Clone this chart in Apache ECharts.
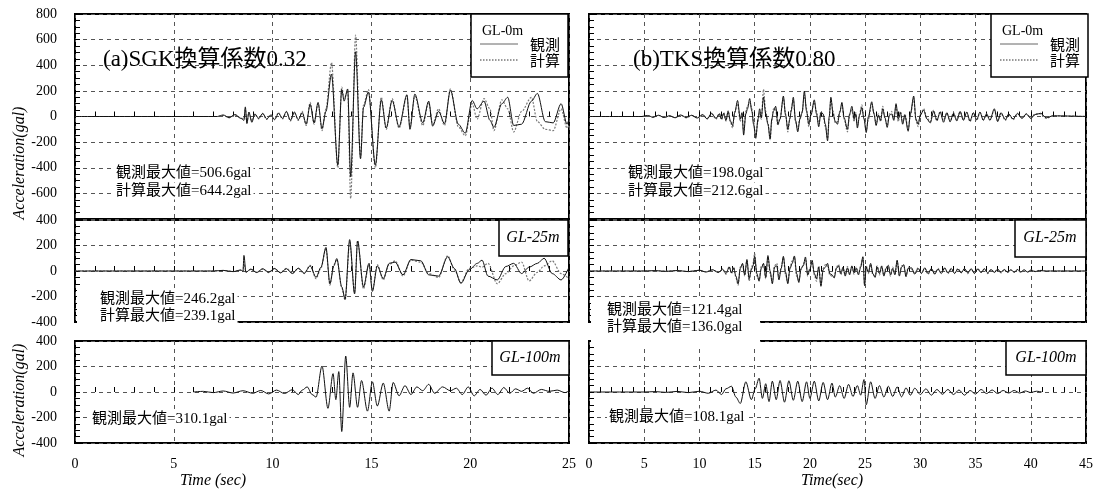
<!DOCTYPE html>
<html>
<head>
<meta charset="utf-8">
<script src="https://cdn.jsdelivr.net/npm/echarts@6/dist/echarts.min.js"></script>
<style>
  body { margin: 0; background: #fff; }
  #chart { width: 1099px; height: 490px; }
</style>
</head>
<body>
<div id="chart"></div>
<script>
// (a) SGK, GL-0m : time (s), observed, calculated (gal)
var tA0 = [0, 7.2, 7.5, 7.8, 8.1, 8.4, 8.55, 8.62, 8.7, 8.8,
  8.95, 9.1, 9.3, 9.5, 9.7, 9.9, 10.1, 10.3, 10.5, 10.7,
  10.9, 11.1, 11.3, 11.5, 11.7, 11.9, 12.1, 12.3, 12.5, 12.7,
  12.98, 13.3, 13.5, 13.62, 13.8, 13.95, 14.2, 14.45, 14.6, 14.85,
  15.2, 15.5, 15.75, 16.05, 16.4, 16.8, 16.95, 17.2, 17.6, 17.9,
  18.1, 18.4, 18.7, 19.0, 19.4, 19.75, 20.1, 20.35, 20.7, 21.0,
  21.2, 21.6, 21.9, 22.2, 22.6, 23.1, 23.4, 23.8, 24.2, 24.6,
  24.9, 25.0];
var obsA0 = [0, 0, 12, -10, 15, -15, -30, 75, -55, 35,
  -45, 20, -15, 25, -20, 10, -25, 25, -15, 40,
  -30, 35, -25, 30, -60, 95, -50, 110, -95, 40,
  330, -380, 210, 120, 215, -470, 505, -330, 70, 190,
  -380, 130, -90, 125, -80, 170, -100, 175, -50, 120,
  -75, 40, -55, 205, -60, -130, 125, 60, 120, -30,
  -85, 100, 150, -70, -60, 120, 180, -40, -50, 100,
  -60, -20];
var calcA0 = [0, 0, 8, -8, 12, -12, -20, 55, -45, 30,
  -35, 15, -18, 20, -22, 15, -20, 30, -20, 35,
  -35, 30, -30, 40, -70, 110, -60, 100, -110, 60,
  420, -400, 230, 140, 200, -640, 635, -320, 90, 210,
  -400, 150, -100, 140, -90, 160, -80, 160, -70, 110,
  -60, 60, -70, 215, -80, -150, 100, -20, 140, 60,
  -110, 130, 60, -120, 40, 150, -40, -100, -110, 60,
  -90, -70];

// (a) SGK, GL-25m
var tA25 = [0, 7.0, 7.5, 8.0, 8.4, 8.5, 8.55, 8.65, 8.9, 9.2,
  9.5, 9.8, 10.1, 10.4, 10.7, 11.0, 11.3, 11.6, 11.9, 12.2,
  12.45, 12.7, 12.9, 13.1, 13.25, 13.5, 13.67, 13.9, 14.15, 14.3,
  14.6, 14.88, 15.05, 15.3, 15.6, 15.9, 16.2, 16.6, 17.0, 17.5,
  17.9, 18.4, 18.86, 19.2, 19.53, 19.95, 20.36, 20.6, 20.9, 21.37,
  21.8, 22.2, 22.6, 22.98, 23.4, 23.74, 24.15, 24.6, 25.0];
var obsA25 = [0, 0, 5, -5, 8, -5, 122, -10, 15, -12,
  18, -10, 20, -15, 18, -20, 22, -18, 40, -50,
  30, 185, -100, 40, 98, -125, -220, 246, -180, 235,
  -125, 60, -160, 40, -60, 60, 70, -30, 90, 80,
  -30, -40, 112, 20, -97, 10, 60, 85, -40, -70,
  35, 60, -20, 30, 60, 100, -20, -70, 30];
var calcA25 = [0, 0, 4, -4, 6, -4, 60, -8, 12, -10,
  15, -12, 18, -12, 20, -18, 20, -20, 45, -60,
  25, 175, -110, 50, 90, -130, -230, 225, -170, 239,
  -140, 55, -150, 50, -70, 50, 80, -40, 85, 70,
  -20, -50, 120, 10, -90, 20, 40, 30, 60, -100,
  -20, 40, 70, -78, -10, 40, 80, -20, -60];

// (a) SGK, GL-100m (observed only)
var tA100 = [6.0, 6.5, 7.0, 7.5, 8.0, 8.5, 9.0, 9.4, 9.8, 10.2,
  10.6, 11.0, 11.3, 11.5, 11.75, 12.0, 12.2, 12.5, 12.8, 13.06,
  13.2, 13.35, 13.5, 13.7, 13.9, 14.07, 14.3, 14.5, 14.8, 15.05,
  15.3, 15.6, 15.9, 16.1, 16.4, 16.7, 17.0, 17.3, 17.6, 17.9,
  18.2, 18.6, 19.0, 19.3, 19.6, 19.9, 20.2, 20.5, 20.8, 21.1,
  21.4, 21.7, 22.0, 22.3, 22.6, 22.9, 23.2, 23.6, 24.0, 24.4,
  24.8, 25.0];
var obsA100 = [0, 5, -5, 8, -8, 10, -10, 12, -15, 15,
  -12, 18, -20, 15, 40, -20, -40, 204, -128, 144,
  -60, 160, -310, 282, -120, 150, -120, 90, -150, 80,
  -110, 70, -150, 75, -30, 50, -20, 40, 10, 60,
  -10, 40, 10, 30, -20, 40, -30, 20, -25, 30,
  -20, 35, -10, 25, 5, 30, -10, 20, 5, 15,
  -5, 10];

// (b) TKS, GL-0m
var tB0 = [0, 4.8, 5.3, 5.8, 6.3, 6.8, 7.3, 7.8, 8.3, 8.8,
  9.3, 9.8, 10.3, 10.7, 11.1, 11.5, 11.8, 12.0, 12.2, 12.4,
  12.6, 12.8, 13.0, 13.2, 13.45, 13.7, 13.85, 14.0, 14.2, 14.35,
  14.55, 14.75, 14.9, 15.1, 15.3, 15.45, 15.6, 15.8, 16.0, 16.2,
  16.4, 16.55, 16.7, 16.9, 17.1, 17.3, 17.6, 17.8, 18.0, 18.2,
  18.3, 18.5, 18.7, 18.9, 19.1, 19.3, 19.5, 19.7, 19.9, 20.1,
  20.4, 20.6, 20.8, 21.0, 21.2, 21.4, 21.6, 21.75, 21.9, 22.1,
  22.3, 22.5, 22.7, 22.9, 23.1, 23.4, 23.6, 23.8, 24.0, 24.15,
  24.3, 24.5, 24.7, 24.9, 25.1, 25.3, 25.6, 25.8, 26.0, 26.2,
  26.4, 26.6, 26.8, 27.0, 27.2, 27.4, 27.6, 27.8, 28.0, 28.2,
  28.4, 28.6, 28.9, 29.1, 29.4, 29.6, 29.8, 30.0, 30.3, 30.6,
  30.9, 31.2, 31.5, 31.8, 32.1, 32.4, 32.7, 33.0, 33.3, 33.6,
  33.9, 34.2, 34.5, 34.8, 35.1, 35.4, 35.7, 36.0, 36.3, 36.7,
  37.0, 37.3, 37.7, 38.0, 38.4, 38.8, 39.2, 39.6, 40.0, 40.4,
  40.9, 41.4, 42.0, 45.0];
var obsB0 = [0, 0, 8, -6, 10, -8, 6, -10, 12, -8,
  10, -12, 15, -20, 25, -15, 20, -20, 25, -30,
  40, -35, -70, 30, 125, -20, 30, -145, 20, 60,
  140, 40, -60, -170, -20, 60, -10, 150, 20, -60,
  -175, -20, 40, 80, -60, -20, 160, 10, -100, -10,
  40, 150, -30, -120, -20, 30, 198, 40, -60, 10,
  130, 20, -80, 30, 20, -60, -190, 0, 150, 20,
  -40, -60, 30, 110, -10, -100, 20, 80, -20, 20,
  -90, 10, 70, -20, -125, 0, 115, 20, -70, 10,
  -30, 60, -10, -85, 10, 20, -30, 100, -20, 30,
  -60, 10, -115, 20, 160, -20, -60, 10, 50, -20,
  -50, 40, -30, 35, -45, 30, -40, 25, -35, 40,
  -30, 35, -35, 30, -25, 35, -30, 20, -30, 60,
  -40, 30, -25, 20, -20, 25, -15, 20, -15, 15,
  25, -10, 5, 0];
var calcB0 = [0, 0, 5, -5, 8, -6, 5, -8, 10, -10,
  8, -10, 12, -15, 20, -20, 25, -25, 30, -35,
  45, -40, -90, 40, 100, -40, 20, -120, 40, 80,
  110, 60, -40, -150, -40, 30, -20, 212, 40, -50,
  -180, -40, 60, 60, -70, -10, 140, 20, -120, -20,
  60, 130, -40, -100, -10, 40, 170, 60, -80, 20,
  110, 40, -60, 40, 10, -80, -170, -20, 130, 40,
  -50, -40, 40, 90, -20, -120, 10, 60, -40, 30,
  -70, 20, 90, -10, -110, -20, 100, 30, -60, 20,
  -40, 80, -20, -70, 20, 40, -20, 80, -40, 40,
  -50, 20, -100, 10, 140, -30, -80, 20, 60, -10,
  -40, 50, -35, 40, -30, 25, -40, 30, -25, 35,
  -20, 30, -40, 25, -30, 30, -25, 20, -25, 50,
  -30, 25, -30, 15, -25, 20, -10, 20, -10, 20,
  20, -15, 5, 0];

// (b) TKS, GL-25m
var tB25 = [0, 5.0, 6.0, 7.0, 8.0, 9.0, 10.0, 10.6, 11.2, 11.7,
  12.1, 12.4, 12.7, 12.9, 13.1, 13.3, 13.5, 13.7, 13.9, 14.1,
  14.3, 14.5, 14.7, 14.85, 15.0, 15.2, 15.4, 15.6, 15.8, 16.0,
  16.2, 16.4, 16.6, 16.8, 17.0, 17.2, 17.4, 17.6, 17.8, 18.0,
  18.2, 18.4, 18.6, 18.8, 19.0, 19.2, 19.4, 19.6, 19.8, 20.0,
  20.2, 20.4, 20.6, 20.8, 21.0, 21.2, 21.4, 21.6, 21.8, 22.0,
  22.2, 22.4, 22.6, 22.8, 23.0, 23.2, 23.4, 23.6, 23.8, 24.0,
  24.2, 24.4, 24.6, 24.8, 24.95, 25.1, 25.3, 25.5, 25.7, 25.9,
  26.1, 26.3, 26.5, 26.7, 26.9, 27.1, 27.3, 27.5, 27.7, 27.9,
  28.1, 28.3, 28.5, 28.7, 28.9, 29.2, 29.5, 29.8, 30.1, 30.4,
  30.7, 31.0, 31.3, 31.6, 31.9, 32.2, 32.5, 32.8, 33.1, 33.4,
  33.7, 34.0, 34.3, 34.6, 34.9, 35.2, 35.5, 35.8, 36.1, 36.4,
  36.7, 37.0, 37.3, 37.6, 37.9, 38.2, 38.5, 38.8, 39.1, 39.4,
  39.7, 40.0, 40.4, 40.8, 41.3, 45.0];
var obsB25 = [0, 0, 3, -3, 4, -5, 6, -8, 10, -12,
  15, -20, 30, -15, 25, -40, -100, 20, 60, -30,
  90, -60, 10, 40, 115, -20, -80, 20, 60, -50,
  121, 0, -100, 30, 40, -70, 20, 115, -10, -100,
  20, 60, 118, -20, -90, 20, 40, 110, -30, 10,
  85, -20, -60, 30, -120, 10, 30, 60, -20, -30,
  -55, 20, 40, -20, 30, -40, 25, -30, 40, -15,
  20, -30, 30, 112, -115, 30, -10, 60, -20, -50,
  30, -20, 40, -40, 20, 45, -30, 20, -30, 85,
  -40, 30, 50, -45, 20, 25, -25, 20, -20, 25,
  -20, 20, -25, 15, -20, 25, -15, 20, -20, 15,
  -15, 20, -15, 18, -20, 15, -12, 18, -15, 12,
  -12, 15, -10, 12, -10, 10, -10, 12, -8, 10,
  -8, 6, -5, 4, 0, 0];
var calcB25 = [0, 0, 2, -2, 3, -4, 5, -6, 8, -10,
  12, -25, 35, -20, 30, -50, -110, 30, 50, -40,
  80, -80, 20, 60, 136, -40, -70, 40, 50, -60,
  110, -20, -90, 40, 60, -50, 30, 105, -30, -90,
  30, 80, 110, -40, -80, 10, 50, 95, -40, 20,
  70, -30, -80, 40, -110, 20, 50, 40, -30, -40,
  -45, 30, 50, -30, 20, -30, 35, -20, 30, -25,
  30, -20, 40, 105, -100, 40, -20, 50, -30, -40,
  40, -30, 30, -30, 30, 35, -40, 30, -20, 75,
  -30, 40, 40, -35, 30, 15, -20, 25, -15, 20,
  -25, 15, -20, 20, -15, 20, -20, 15, -15, 20,
  -10, 15, -20, 15, -15, 20, -10, 15, -20, 10,
  -8, 12, -15, 10, -12, 8, -8, 10, -10, 8,
  -10, 8, -3, 5, 0, 0];

// (b) TKS, GL-100m (observed only)
var tB100 = [0, 5.0, 6.0, 7.0, 8.0, 9.0, 10.0, 10.8, 11.5, 12.0,
  12.4, 12.9, 13.3, 13.7, 14.2, 14.7, 15.05, 15.4, 15.7, 16.0,
  16.3, 16.6, 16.95, 17.3, 17.7, 18.1, 18.5, 18.9, 19.3, 19.7,
  20.0, 20.4, 20.8, 21.2, 21.6, 22.0, 22.3, 22.7, 23.1, 23.5,
  23.9, 24.3, 24.6, 24.9, 25.1, 25.5, 25.9, 26.3, 26.7, 27.1,
  27.5, 27.9, 28.3, 28.7, 29.1, 29.5, 30.0, 30.5, 31.0, 31.5,
  32.0, 32.5, 33.0, 33.5, 34.0, 34.5, 35.0, 35.5, 36.0, 36.5,
  37.0, 37.5, 38.0, 38.5, 39.0, 39.5, 40.0, 40.5, 41.0];
var obsB100 = [0, 0, 3, -3, 5, -5, 6, -10, 15, -20,
  25, 45, -40, -90, 80, -60, 25, 108, -50, 65,
  -75, 85, -60, 90, -80, 88, -65, 85, -75, 80,
  -50, 85, -70, 75, -60, 70, -40, 50, -50, 60,
  -35, 50, -25, 98, -100, 80, -50, 50, -40, 45,
  -35, 40, -38, 32, -25, 30, -20, 25, -25, 20,
  -18, 20, -20, 16, -25, 12, -16, 20, -12, 16,
  -12, 12, -8, 12, -8, 8, -4, 6, 0];

var xMaxLeft = 25, xMaxRight = 45;
var serif = '"Liberation Serif", "Noto Sans CJK JP", serif';

function pairs(t, v) {
  return t.map(function (x, i) { return [x, v[i]]; });
}

var cols = [{ left: 75, width: 494, max: xMaxLeft }, { left: 589, width: 497, max: xMaxRight }];
var rows = [{ top: 14, height: 205, lim: 800 }, { top: 220, height: 102, lim: 400 }, { top: 341, height: 102, lim: 400 }];

var grids = [], xAxes = [], yAxes = [];
cols.forEach(function (c, ci) {
  rows.forEach(function (r, ri) {
    grids.push({ left: c.left, top: r.top, width: c.width, height: r.height,
      show: true, borderColor: '#000', borderWidth: 2 });
    var gi = grids.length - 1;
    xAxes.push({
      gridIndex: gi, type: 'value', min: 0, max: c.max, interval: 5,
      axisLine: { show: false },
      axisTick: { inside: true, length: 5, lineStyle: { color: '#000' } },
      minorTick: { show: true, splitNumber: 5, length: 5, lineStyle: { color: '#000' } },
      splitLine: { show: true, lineStyle: { color: '#555', type: [4, 4], width: 1 } },
      axisLabel: { show: ri === 2, color: '#000', fontFamily: serif, fontSize: 14, margin: 14 }
    });
    yAxes.push({
      gridIndex: gi, type: 'value', min: -r.lim, max: r.lim, interval: 200,
      axisLine: { show: false },
      axisTick: { inside: true, length: 5, lineStyle: { color: '#000' } },
      minorTick: { show: true, splitNumber: 4, length: 5, lineStyle: { color: '#000' } },
      splitLine: { show: true, lineStyle: { color: '#555', type: [4, 4], width: 1 } },
      axisLabel: {
        show: ci === 0, color: '#000', fontFamily: serif, fontSize: 14, margin: 18,
        formatter: function (v) { return (ri === 0 && v === -800) ? '' : String(v); }
      }
    });
  });
});

function obsLine(i, t, v) {
  return { type: 'line', xAxisIndex: i, yAxisIndex: i, data: pairs(t, v), symbol: 'none',
    smooth: 0.3, smoothMonotone: 'x', silent: true,
    lineStyle: { color: '#111', width: 1 }, z: 3 };
}
function calcLine(i, t, v) {
  return { type: 'line', xAxisIndex: i, yAxisIndex: i, data: pairs(t, v), symbol: 'none',
    smooth: 0.3, smoothMonotone: 'x', silent: true,
    lineStyle: { color: '#7a7a7a', width: 1.2, type: [2, 1.5] }, z: 2 };
}

var series = [
  calcLine(0, tA0, calcA0), obsLine(0, tA0, obsA0),
  calcLine(1, tA25, calcA25), obsLine(1, tA25, obsA25),
  obsLine(2, tA100, obsA100),
  calcLine(3, tB0, calcB0), obsLine(3, tB0, obsB0),
  calcLine(4, tB25, calcB25), obsLine(4, tB25, obsB25),
  obsLine(5, tB100, obsB100)
];

function txt(x, y, s, font, extra) {
  var st = { text: s, x: 0, y: 0, font: font, fill: '#000', align: 'left', verticalAlign: 'middle' };
  if (extra) Object.keys(extra).forEach(function (k) { st[k] = extra[k]; });
  return { type: 'text', x: x, y: y, z: 110, style: st };
}
function box(x, y, w, h) {
  return { type: 'rect', z: 105, shape: { x: x, y: y, width: w, height: h },
    style: { fill: '#fff', stroke: '#000', lineWidth: 1.5 } };
}
function blank(x, y, w, h) {
  return { type: 'rect', z: 104, shape: { x: x, y: y, width: w, height: h },
    style: { fill: '#fff', stroke: null } };
}

var statFont = '15px ' + serif;
var bg = { backgroundColor: '#fff', padding: [1, 2] };
var els = [];

// legends of the GL-0m panels
[0, 520].forEach(function (dx) {
  els.push(box(471 + dx, 14, 97, 63));
  els.push(txt(482 + dx, 31, 'GL-0m', '14px ' + serif));
  els.push({ type: 'line', z: 110, shape: { x1: 480 + dx, y1: 44, x2: 518 + dx, y2: 44 },
    style: { stroke: '#666', lineWidth: 1 } });
  els.push({ type: 'line', z: 110, shape: { x1: 480 + dx, y1: 60, x2: 519 + dx, y2: 60 },
    style: { stroke: '#333', lineWidth: 1, lineDash: [1.5, 1.5] } });
  els.push(txt(530 + dx, 46, '観測', '15px ' + serif));
  els.push(txt(530 + dx, 62, '計算', '15px ' + serif));
});

// depth boxes
els.push(box(499, 220, 69, 36), txt(533, 238, 'GL-25m', 'italic 16px ' + serif, { align: 'center' }));
els.push(box(1015, 220, 71, 37), txt(1050, 238, 'GL-25m', 'italic 16px ' + serif, { align: 'center' }));
els.push(box(492, 341, 77, 34), txt(530, 358, 'GL-100m', 'italic 16px ' + serif, { align: 'center' }));
els.push(box(1006, 341, 80, 34), txt(1046, 358, 'GL-100m', 'italic 16px ' + serif, { align: 'center' }));

// titles
els.push(txt(103, 60, '(a)SGK換算係数0.32', '23px ' + serif));
els.push(txt(633, 60, '(b)TKS換算係数0.80', '23px ' + serif));

// peak value notes
els.push(blank(77, 288, 160, 37), blank(591, 300, 169, 46));
els.push(txt(114, 173, '観測最大値=506.6gal', statFont, bg), txt(114, 191, '計算最大値=644.2gal', statFont, bg));
els.push(txt(98, 299, '観測最大値=246.2gal', statFont, bg), txt(98, 316, '計算最大値=239.1gal', statFont, bg));
els.push(txt(90, 419, '観測最大値=310.1gal', statFont, bg));
els.push(txt(626, 173, '観測最大値=198.0gal', statFont, bg), txt(626, 191, '計算最大値=212.6gal', statFont, bg));
els.push(txt(605, 310, '観測最大値=121.4gal', statFont, bg), txt(605, 327, '計算最大値=136.0gal', statFont, bg));
els.push(txt(607, 417, '観測最大値=108.1gal', statFont, bg));

// axis names
var yName1 = txt(20, 163, 'Acceleration(gal)', 'italic 16px ' + serif, { align: 'center' });
yName1.rotation = Math.PI / 2;
var yName2 = txt(20, 400, 'Acceleration(gal)', 'italic 16px ' + serif, { align: 'center' });
yName2.rotation = Math.PI / 2;
els.push(yName1, yName2);
els.push(txt(213, 481, 'Time (sec)', 'italic 16px ' + serif, { align: 'center' }));
els.push(txt(832, 481, 'Time(sec)', 'italic 16px ' + serif, { align: 'center' }));

var chart = echarts.init(document.getElementById('chart'));
chart.setOption({
  animation: false,
  backgroundColor: '#fff',
  grid: grids,
  xAxis: xAxes,
  yAxis: yAxes,
  series: series,
  graphic: { elements: els }
});
</script>
</body>
</html>
